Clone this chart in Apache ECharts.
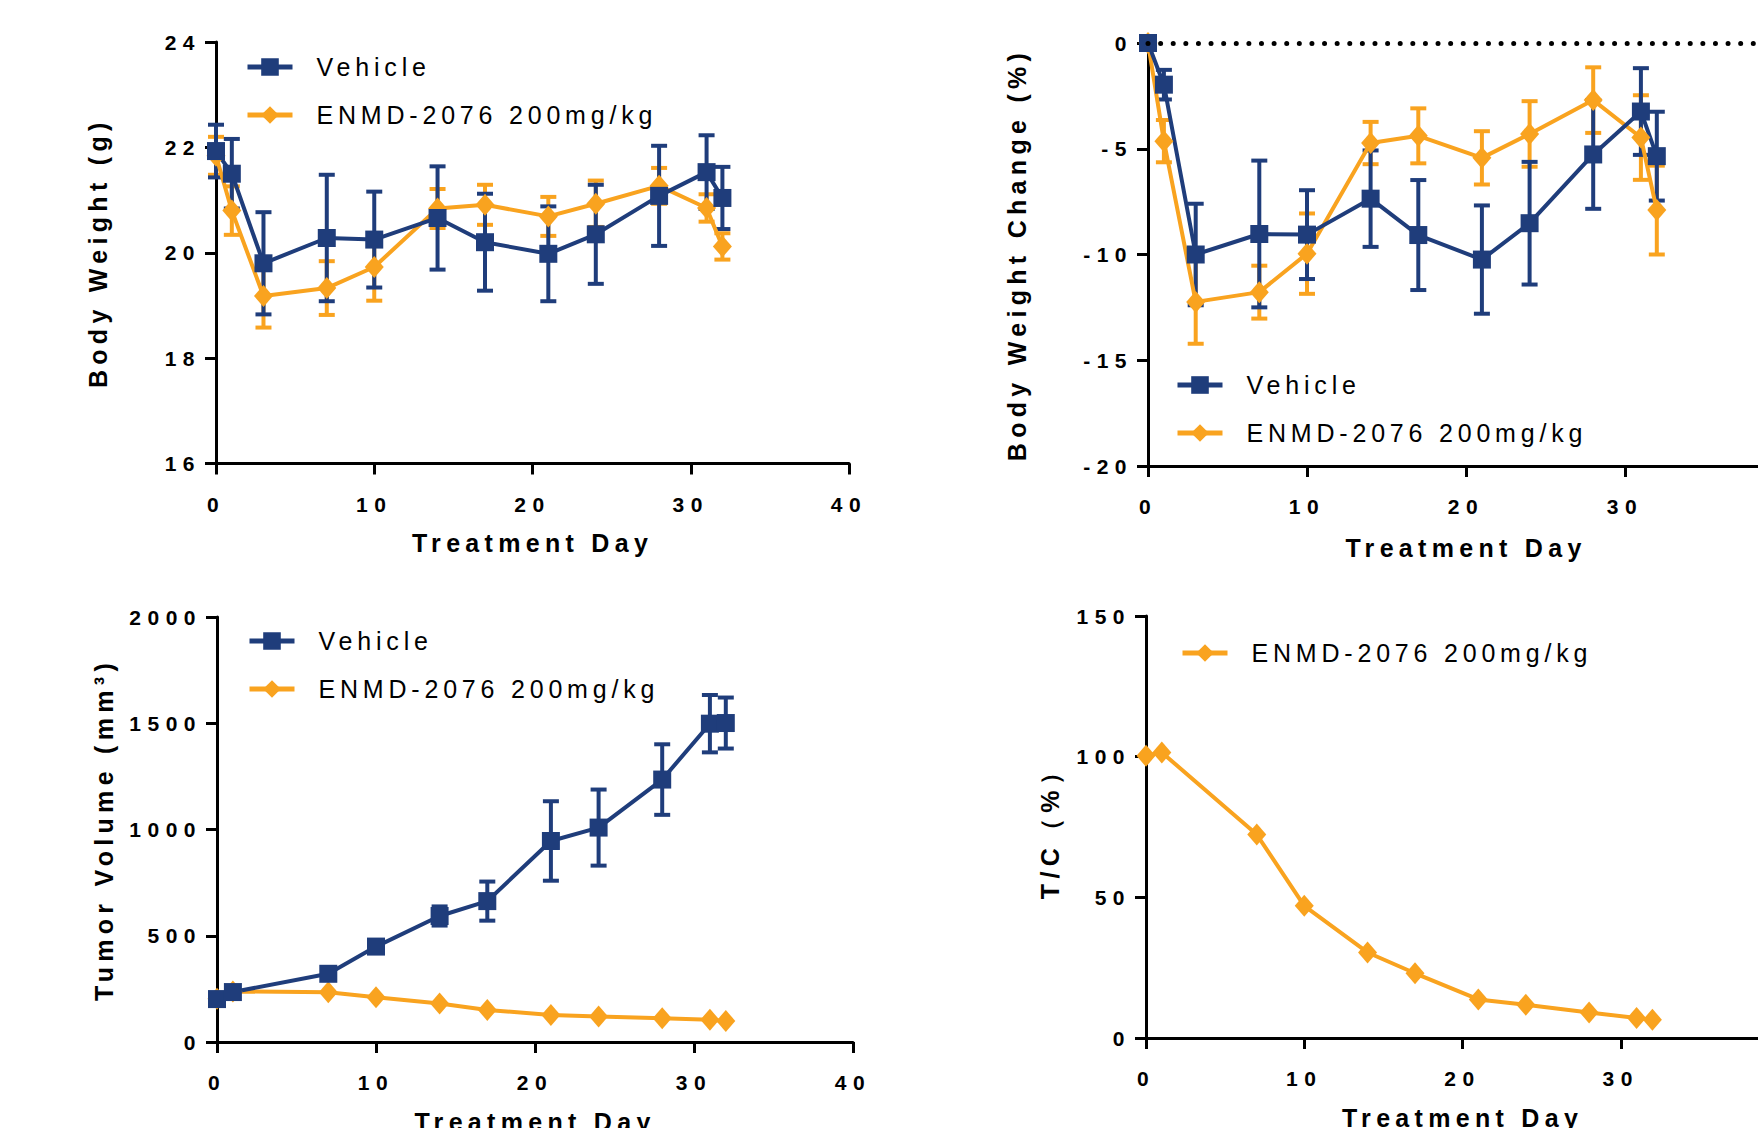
<!DOCTYPE html>
<html><head><meta charset="utf-8">
<script src="https://cdn.jsdelivr.net/npm/echarts@6/dist/echarts.min.js"></script>
<style>html,body{margin:0;padding:0;background:#fff}#chart{width:1758px;height:1128px}</style>
</head><body><div id="chart"></div>
<script>
// ---------- data ----------
const SERIES_NAMES = ['Vehicle', 'ENMD-2076 200mg/kg'];
const DAYS_BW = [0, 1, 3, 7, 10, 14, 17, 21, 24, 28, 31, 32];
const DAYS_TV = [0, 1, 7, 10, 14, 17, 21, 24, 28, 31, 32];

// Panel 1: body weight (g)
const BW_VEH = [21.93, 21.5, 19.8, 20.28, 20.25, 20.66, 20.2, 19.98, 20.35, 21.08, 21.53, 21.04];
const BW_VEH_SEM = [0.5, 0.66, 0.97, 1.2, 0.91, 0.98, 0.92, 0.9, 0.94, 0.95, 0.7, 0.59];
const BW_ENMD = [21.84, 20.8, 19.18, 19.33, 19.73, 20.84, 20.91, 20.69, 20.93, 21.27, 20.85, 20.12];
const BW_ENMD_SEM = [0.36, 0.46, 0.6, 0.51, 0.64, 0.37, 0.38, 0.37, 0.44, 0.34, 0.26, 0.25];

// Panel 2: body weight change (%)
const BWC_VEH = [0, -1.97, -10.0, -9.03, -9.06, -7.36, -9.08, -10.24, -8.52, -5.27, -3.24, -5.35];
const BWC_VEH_SEM = [0, 0.7, 2.4, 3.47, 2.1, 2.28, 2.6, 2.56, 2.9, 2.57, 2.05, 2.1];
const BWC_ENMD = [0, -4.64, -12.24, -11.78, -9.96, -4.73, -4.39, -5.43, -4.3, -2.7, -4.47, -7.9];
const BWC_ENMD_SEM = [0, 1.0, 1.98, 1.25, 1.9, 1.0, 1.3, 1.26, 1.55, 1.55, 2.0, 2.1];

// Panel 3: tumor volume (mm3)
const TV_VEH = [202, 235, 321, 449, 593, 663, 946, 1009, 1235, 1498, 1501];
const TV_VEH_SEM = [8, 12, 15, 20, 45, 92, 187, 179, 166, 135, 120];
const TV_ENMD = [203, 238, 234, 211, 181, 151, 127, 120, 112, 105, 99];

// Panel 4: T/C (%)
const TC_ENMD = [100.3, 101.5, 72.3, 47.0, 30.4, 23.0, 13.7, 11.8, 9.1, 7.1, 6.5];

// axis ticks
const X_TICKS = [0, 10, 20, 30, 40];
const BW_TICKS = [16, 18, 20, 22, 24];
const BWC_TICKS = [-20, -15, -10, -5, 0];
const TV_TICKS = [0, 500, 1000, 1500, 2000];
const TC_TICKS = [0, 50, 100, 150];

const X_NAME = 'Treatment Day';
const Y_NAMES = ['Body Weight (g)', 'Body Weight Change (%)', 'Tumor Volume (mm³)', 'T/C（%）'];

// ---------- styling ----------
const FONT = "'Liberation Sans', Arial, Helvetica, sans-serif";
const NAVY = '#1f3d7b', ORANGE = '#f9a31f';
const GRIDS = [
  {left: 216, top: 42, width: 633, height: 421.5, outerBoundsMode: 'none', containLabel: false},
  {left: 1148, top: 43, width: 636, height: 423, outerBoundsMode: 'none', containLabel: false},
  {left: 217, top: 617, width: 636, height: 425, outerBoundsMode: 'none', containLabel: false},
  {left: 1146, top: 616, width: 633, height: 422, outerBoundsMode: 'none', containLabel: false}
];
const Y_GAPS = [105.5, 119, 100.5, 83.5];
const X_GAPS = [67, 69.5, 67, 67];

const tickArrays = [BW_TICKS, BWC_TICKS, TV_TICKS, TC_TICKS];

function plain(v) { return String(v); }

function xAx(i) {
  return {
    gridIndex: i, type: 'value', min: X_TICKS[0], max: X_TICKS[X_TICKS.length - 1],
    interval: X_TICKS[1] - X_TICKS[0],
    name: X_NAME, nameLocation: 'middle', nameGap: X_GAPS[i],
    nameTextStyle: {fontFamily: FONT, fontSize: 25, fontWeight: 'bold', color: '#000'},
    axisLine: {show: true, onZero: false, lineStyle: {color: '#000', width: 3}},
    axisTick: {show: true, length: 11, lineStyle: {color: '#000', width: 3}},
    axisLabel: {fontFamily: FONT, fontSize: 21, fontWeight: 'bold', color: '#000', margin: 30, formatter: plain},
    splitLine: {show: false}
  };
}
function yAx(i) {
  const t = tickArrays[i];
  return {
    gridIndex: i, type: 'value', min: t[0], max: t[t.length - 1], interval: t[1] - t[0],
    name: Y_NAMES[i], nameLocation: 'middle', nameGap: Y_GAPS[i],
    nameTextStyle: {fontFamily: FONT, fontSize: 25, fontWeight: 'bold', color: '#000'},
    axisLine: {show: true, onZero: false, lineStyle: {color: '#000', width: 3}},
    axisTick: {show: true, length: 11, lineStyle: {color: '#000', width: 3}},
    axisLabel: {fontFamily: FONT, fontSize: 21, fontWeight: 'bold', color: '#000', margin: 15, formatter: plain},
    splitLine: {show: false}
  };
}
function leg(left, centerY, names) {
  return {
    orient: 'vertical', left: left, top: centerY - 12.5, padding: 0, itemGap: 23,
    itemWidth: 45, itemHeight: 22, data: names, selectedMode: false,
    textStyle: {fontFamily: FONT, fontSize: 25, color: '#000', padding: [0, 0, 0, 19]},
    lineStyle: {width: 5}
  };
}
function lineS(i, name, days, vals, color, isVeh, extra) {
  return Object.assign({
    type: 'line', name: name, xAxisIndex: i, yAxisIndex: i,
    data: days.map((d, k) => [d, vals[k]]),
    symbol: isVeh ? 'rect' : 'diamond',
    symbolSize: isVeh ? 18 : [19, 22],
    showSymbol: true,
    lineStyle: {color: color, width: 4},
    itemStyle: {color: color},
    emphasis: {disabled: true},
    clip: false, silent: true
  }, extra || {});
}
function errS(i, days, vals, sem, color) {
  return {
    type: 'custom', xAxisIndex: i, yAxisIndex: i, silent: true, clip: false,
    data: days.map((d, k) => [d, vals[k] - sem[k], vals[k] + sem[k]]),
    encode: {x: 0, y: [1, 2]},
    renderItem: function (params, api) {
      const x = api.value(0), lo = api.value(1), hi = api.value(2);
      if (!(hi > lo)) return null;
      const p1 = api.coord([x, lo]), p2 = api.coord([x, hi]);
      const hw = 8;
      const st = {stroke: color, lineWidth: 4, fill: null};
      return {type: 'group', children: [
        {type: 'line', shape: {x1: p1[0], y1: p1[1], x2: p2[0], y2: p2[1]}, style: st},
        {type: 'line', shape: {x1: p1[0] - hw, y1: p1[1], x2: p1[0] + hw, y2: p1[1]}, style: st},
        {type: 'line', shape: {x1: p2[0] - hw, y1: p2[1], x2: p2[0] + hw, y2: p2[1]}, style: st}
      ]};
    }
  };
}

const option = {
  animation: false,
  backgroundColor: '#fff',
  grid: GRIDS,
  xAxis: [0, 1, 2, 3].map(xAx),
  yAxis: [0, 1, 2, 3].map(yAx),
  legend: [
    leg(245, 67, SERIES_NAMES),
    leg(1175, 385, SERIES_NAMES),
    leg(247, 641, SERIES_NAMES),
    leg(1180, 653, [SERIES_NAMES[1]])
  ],
  series: [
    // panel 1
    errS(0, DAYS_BW, BW_ENMD, BW_ENMD_SEM, ORANGE),
    lineS(0, SERIES_NAMES[1], DAYS_BW, BW_ENMD, ORANGE, false),
    errS(0, DAYS_BW, BW_VEH, BW_VEH_SEM, NAVY),
    lineS(0, SERIES_NAMES[0], DAYS_BW, BW_VEH, NAVY, true),
    // panel 2
    errS(1, DAYS_BW, BWC_ENMD, BWC_ENMD_SEM, ORANGE),
    lineS(1, SERIES_NAMES[1], DAYS_BW, BWC_ENMD, ORANGE, false, {
      markLine: {
        silent: true, symbol: ['none', 'none'], label: {show: false},
        lineStyle: {color: '#000', width: 5, type: [0.01, 12.6], cap: 'round'},
        emphasis: {disabled: true},
        data: [{yAxis: 0}]
      }
    }),
    errS(1, DAYS_BW, BWC_VEH, BWC_VEH_SEM, NAVY),
    lineS(1, SERIES_NAMES[0], DAYS_BW, BWC_VEH, NAVY, true),
    // panel 3
    lineS(2, SERIES_NAMES[1], DAYS_TV, TV_ENMD, ORANGE, false),
    errS(2, DAYS_TV, TV_VEH, TV_VEH_SEM, NAVY),
    lineS(2, SERIES_NAMES[0], DAYS_TV, TV_VEH, NAVY, true),
    // panel 4
    lineS(3, SERIES_NAMES[1], DAYS_TV, TC_ENMD, ORANGE, false)
  ]
};

const chart = echarts.init(document.getElementById('chart'), null, {renderer: 'svg'});
chart.setOption(option);

function applySpacing() {
  const axisNames = Y_NAMES.concat([X_NAME]);
  document.querySelectorAll('#chart svg text').forEach(function (t) {
    const s = t.textContent;
    let ls = 6.5;
    if (axisNames.indexOf(s) >= 0) ls = 5.3;
    else if (SERIES_NAMES.indexOf(s) >= 0) ls = 4.8;
    t.style.letterSpacing = ls + 'px';
  });
}
applySpacing();
chart.on('finished', applySpacing);
setTimeout(applySpacing, 50);
</script>
</body></html>
